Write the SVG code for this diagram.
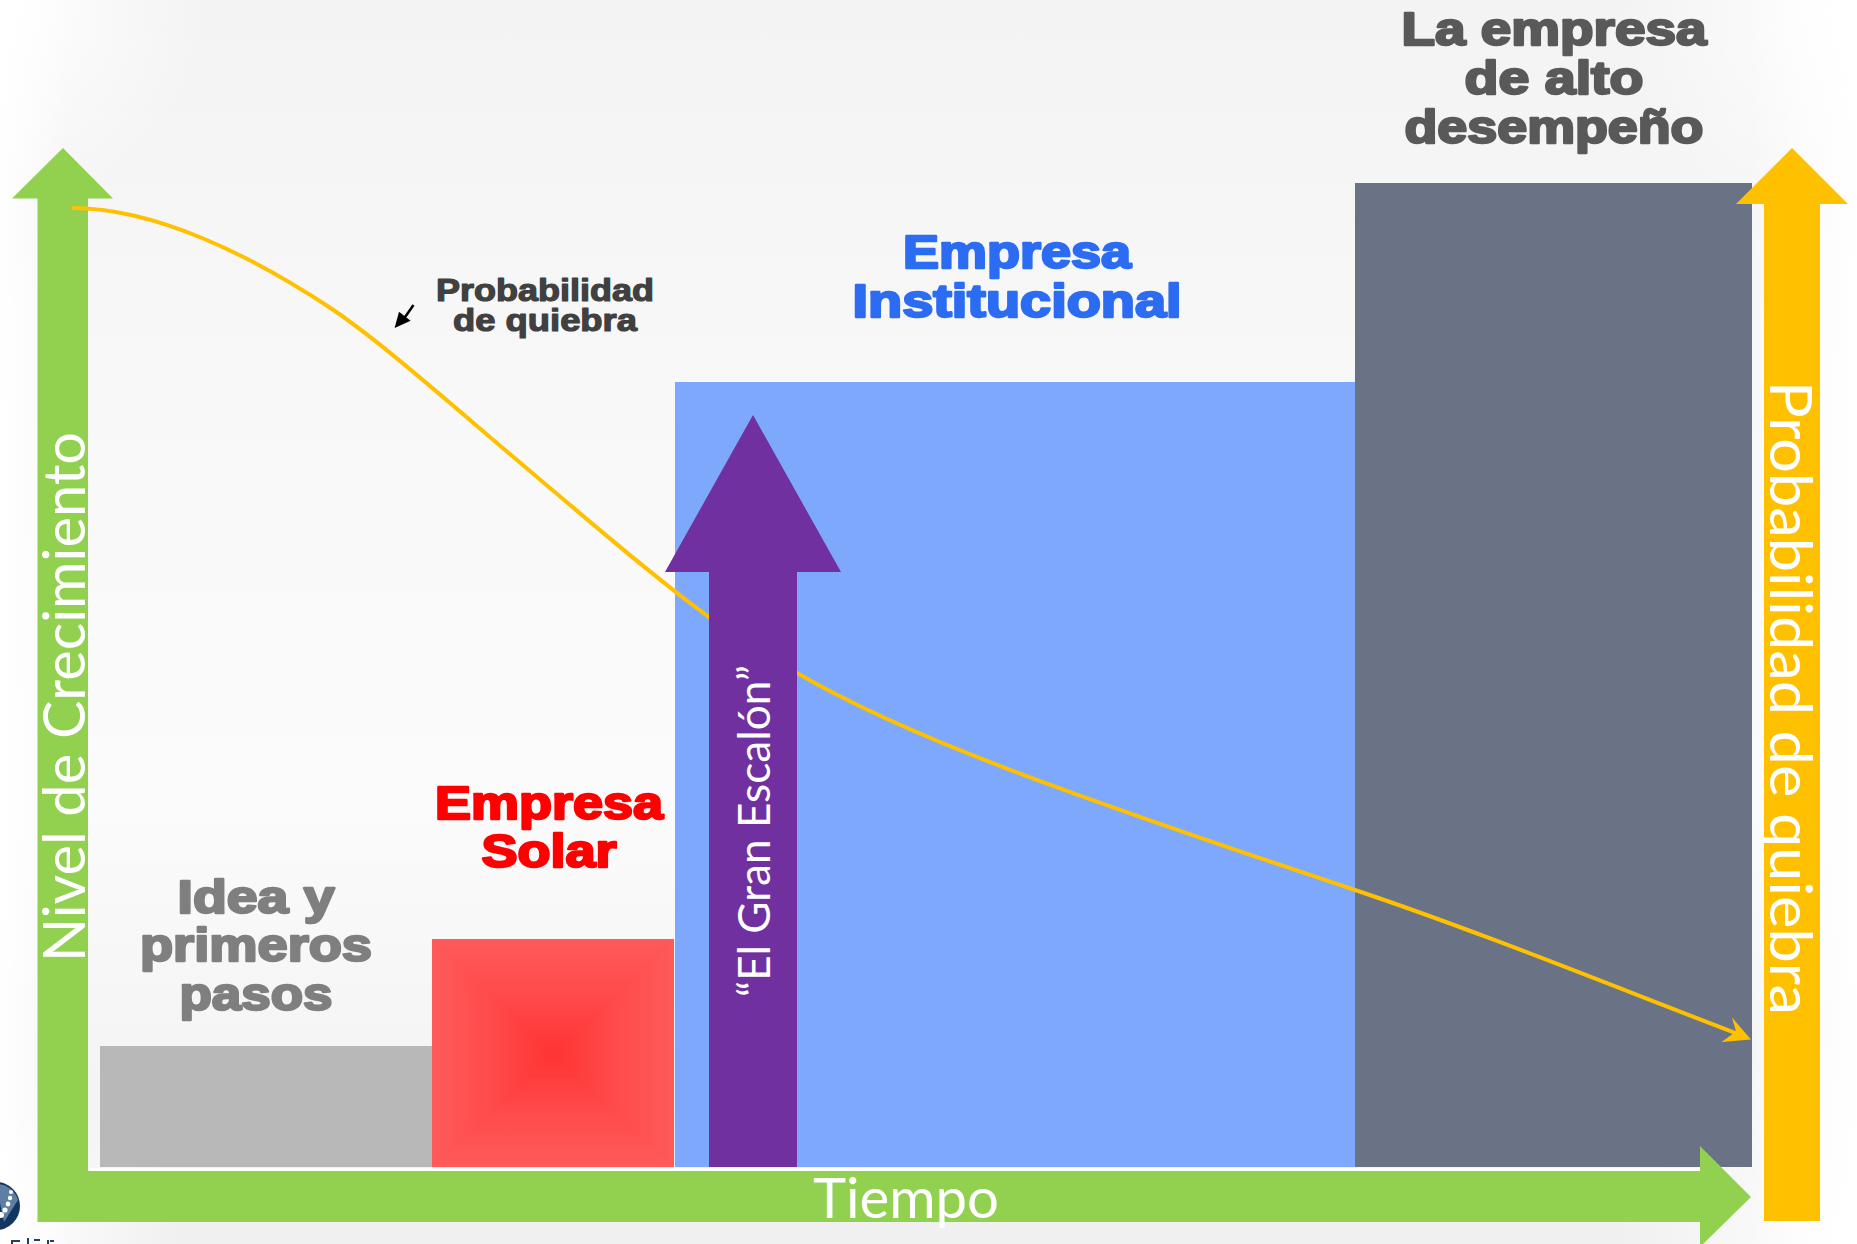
<svg xmlns="http://www.w3.org/2000/svg" width="1857" height="1244" viewBox="0 0 1857 1244">
<style>
.h{font-family:"Liberation Sans",Arial,sans-serif;font-weight:700;text-anchor:middle;stroke-linejoin:round;stroke-width:2.400px}
.g{font-family:Lato,"Open Sans",sans-serif;fill:#fff}
.big{font-size:46px}
.gray{fill:#7f7f7f;stroke:#7f7f7f}.red{fill:#f00;stroke:#f00}.blue{fill:#2b6cf2;stroke:#2b6cf2}.dark{fill:#595959;stroke:#595959}
.small{font-size:31px;fill:#404040;stroke:#404040;stroke-width:1.200px}
</style>
<defs>
<linearGradient id="bgV" x1="0" y1="0" x2="0" y2="1"><stop offset="0" stop-color="#f3f3f3"/><stop offset=".3" stop-color="#f8f8f8"/><stop offset=".65" stop-color="#fbfbfb"/><stop offset="1" stop-color="#f0f0f0"/></linearGradient>
<linearGradient id="fadeL"><stop offset="0" stop-color="#fff"/><stop offset="1" stop-color="#fff" stop-opacity="0"/></linearGradient>
<linearGradient id="fadeR"><stop offset="0" stop-color="#fff" stop-opacity="0"/><stop offset="1" stop-color="#fff"/></linearGradient>
<linearGradient id="rL" gradientUnits="userSpaceOnUse" x1="553" y1="0" x2="432" y2="0"><stop offset="0" stop-color="#ff3333"/><stop offset=".5" stop-color="#ff4a4a"/><stop offset="1" stop-color="#ff5a5a"/></linearGradient>
<linearGradient id="rR" gradientUnits="userSpaceOnUse" x1="553" y1="0" x2="674" y2="0"><stop offset="0" stop-color="#ff3333"/><stop offset=".5" stop-color="#ff4a4a"/><stop offset="1" stop-color="#ff5a5a"/></linearGradient>
<linearGradient id="rT" gradientUnits="userSpaceOnUse" x1="0" y1="1053" x2="0" y2="939"><stop offset="0" stop-color="#ff3333"/><stop offset=".5" stop-color="#ff4a4a"/><stop offset="1" stop-color="#ff5a5a"/></linearGradient>
<linearGradient id="rB" gradientUnits="userSpaceOnUse" x1="0" y1="1053" x2="0" y2="1167"><stop offset="0" stop-color="#ff3333"/><stop offset=".5" stop-color="#ff4a4a"/><stop offset="1" stop-color="#ff5a5a"/></linearGradient>
<radialGradient id="corner"><stop offset="0" stop-color="#fff"/><stop offset="1" stop-color="#fff" stop-opacity="0"/></radialGradient>
</defs>
<g id="background">
<rect width="1857" height="1244" fill="url(#bgV)"/>
<rect width="70" height="1244" fill="url(#fadeL)"/>
<rect x="1750" width="107" height="1244" fill="url(#fadeR)"/>
<circle cx="0" cy="0" r="210" fill="url(#corner)"/>
<circle cx="1857" cy="0" r="240" fill="url(#corner)"/>
<circle cx="0" cy="1244" r="180" fill="url(#corner)"/>
<circle cx="1857" cy="1244" r="240" fill="url(#corner)"/>
</g>
<g id="logo-fragment">
<circle cx="-4" cy="1206" r="24" fill="#12365f"/>
<path d="M-4 1184A22 22 0 0 1 18 1200L4 1222Z" fill="#5d7fa3"/>
<g fill="#fff"><circle cx="11" cy="1192" r="2"/><circle cx="10" cy="1198" r="2.200"/><circle cx="8" cy="1204" r="2.400"/><circle cx="5" cy="1210" r="2.600"/><circle cx="1" cy="1215" r="3"/></g>
<path d="M12 1244V1241H20M28 1244V1238M34 1240H40M48 1244V1240M50 1241H54" stroke="#24405f" stroke-width="2" fill="none"/>
</g>
<g id="idea"><rect x="100" y="1046" width="332" height="121" fill="#b8b8b8"/>
<text class="h big gray"><tspan x="256" y="913" textLength="157" lengthAdjust="spacingAndGlyphs">Idea y</tspan><tspan x="256" y="961" textLength="232" lengthAdjust="spacingAndGlyphs">primeros</tspan><tspan x="256" y="1010" textLength="153" lengthAdjust="spacingAndGlyphs">pasos</tspan></text></g>
<g id="solar">
<rect x="432" y="939" width="242" height="228" fill="#ff4a4a"/>
<path d="M432 939L553 1053L432 1167Z" fill="url(#rL)"/>
<path d="M674 939L553 1053L674 1167Z" fill="url(#rR)"/>
<path d="M432 939H674L553 1053Z" fill="url(#rT)"/>
<path d="M432 1167H674L553 1053Z" fill="url(#rB)"/>
<text class="h big red"><tspan x="549" y="819" textLength="228" lengthAdjust="spacingAndGlyphs">Empresa</tspan><tspan x="549" y="867" textLength="135" lengthAdjust="spacingAndGlyphs">Solar</tspan></text></g>
<g id="institucional"><rect x="675" y="382" width="680" height="785" fill="#7ea8fc"/>
<text class="h big blue"><tspan x="1017" y="268" textLength="228" lengthAdjust="spacingAndGlyphs">Empresa</tspan><tspan x="1017" y="317" textLength="329" lengthAdjust="spacingAndGlyphs">Institucional</tspan></text></g>
<g id="alto"><rect x="1355" y="183" width="397" height="984" fill="#6a7386"/>
<text class="h big dark"><tspan x="1554" y="45" textLength="305" lengthAdjust="spacingAndGlyphs">La empresa</tspan><tspan x="1554" y="94" textLength="179" lengthAdjust="spacingAndGlyphs">de alto</tspan><tspan x="1554" y="143" textLength="299" lengthAdjust="spacingAndGlyphs">desempeño</tspan></text></g>
<g id="eje-crecimiento">
<path d="M37.500 1221V198.500H12L63 148L113 198.500H88V1222H37.500Z" fill="#92d050"/>
<text class="g" font-size="58" transform="translate(85 962) rotate(-90)" textLength="530" lengthAdjust="spacingAndGlyphs">Nivel de Crecimiento</text>
</g>
<g id="connectors">
<path d="M72 208C155 208 250 255 329 307C380 341 440 395 544 483C600 530 660 582 709 617C740 639 770 658 797 673C900 733 1040 785 1355 890C1480 932 1610 985 1738 1034" fill="none" stroke="#ffc000" stroke-width="4"/>
<path d="M1751 1039.500L1732 1017.500L1736 1031.500L1721.500 1042Z" fill="#ffc000"/>
<path d="M413.500 305L403 320" stroke="#000" stroke-width="2.500" fill="none"/>
<path d="M394.600 328L399 311.700L410.600 320.700Z" fill="#000"/>
</g>
<g id="probabilidad-label">
<text class="h small"><tspan x="545" y="301" textLength="218" lengthAdjust="spacingAndGlyphs">Probabilidad</tspan><tspan x="545" y="331" textLength="184" lengthAdjust="spacingAndGlyphs">de quiebra</tspan></text>
</g>
<g id="gran-escalon">
<path d="M709 1167V572H665L753 415L841 572H797V1167Z" fill="#7030a0"/>
<text class="g" font-size="44" transform="translate(770 997) rotate(-90)" textLength="332" lengthAdjust="spacingAndGlyphs">“El Gran Escalón”</text>
</g>
<g id="base-line"><rect x="88" y="1168" width="1612" height="3" fill="#fff"/></g>
<g id="eje-tiempo">
<path d="M88 1171H1700V1146L1751 1197L1700 1247V1222H88Z" fill="#92d050"/>
<text class="g" font-size="56" x="813" y="1218" textLength="186" lengthAdjust="spacingAndGlyphs">Tiempo</text>
</g>
<g id="eje-quiebra">
<path d="M1764 1221V204H1736L1792 148L1848 204H1820V1221Z" fill="#ffc000"/>
<text class="g" font-size="58" transform="translate(1770 381) rotate(90)" textLength="634" lengthAdjust="spacingAndGlyphs">Probabilidad de quiebra</text>
</g>
</svg>
